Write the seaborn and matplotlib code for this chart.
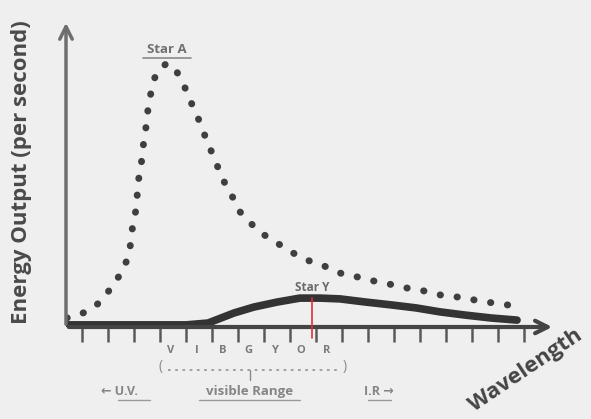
import numpy as np
import pandas as pd
import seaborn as sns
import matplotlib.pyplot as plt

# wavelength in tick units, energy in arbitrary units (Star A peak ~ 100)
star_a_x = [-0.58, -0.15, 0.31, 0.69, 1.0, 1.27, 1.54, 1.73, 1.85, 1.92, 1.96, 2.08,
            2.12, 2.15, 2.23, 2.31, 2.35, 2.42, 2.5, 2.54, 2.62, 2.73, 2.88, 3.27,
            3.65, 3.88, 4.08, 4.27, 4.46, 4.65, 4.81, 5.0, 5.19, 5.38, 5.58, 5.81,
            6.08, 6.38, 6.73, 7.12, 7.5, 7.92, 8.38, 8.85, 9.23, 9.65, 10.12, 10.58,
            11.08, 11.54, 12.04, 12.5, 13.0, 13.46, 13.96, 14.46, 14.92, 15.42,
            15.88, 16.38]
star_a_y = [3.4, 4.5, 6.4, 9.4, 13.2, 17.0, 20.8, 25.3, 30.2, 35.5, 39.6, 44.2,
            49.1, 54.3, 58.5, 63.8, 67.9, 73.2, 77.4, 82.6, 86.8, 92.1, 96.2, 99.6,
            96.2, 92.1, 87.5, 83.0, 78.9, 74.3, 69.8, 65.7, 61.1, 56.6, 52.5, 48.7,
            43.4, 40.4, 36.6, 34.0, 31.7, 29.1, 26.4, 24.5, 23.4, 21.5, 19.6, 18.9,
            17.7, 16.6, 15.8, 14.7, 14.0, 12.8, 11.7, 11.3, 10.6, 9.4, 9.1, 8.3]
star_y_x = [-0.62, 1.0, 3.0, 4.0, 4.85, 5.85, 6.6, 7.5, 8.38, 9.15, 9.92, 10.92,
            11.92, 12.85, 13.77, 14.73, 15.73, 16.73]
star_y_y = [0.8, 0.8, 0.8, 0.8, 1.5, 5.3, 7.5, 9.4, 10.9, 10.9, 10.6, 9.4,
            8.3, 7.2, 5.7, 4.5, 3.4, 2.6]
n_ticks = 18
colour_letters = ["V", "I", "B", "G", "Y", "O", "R"]
peak_y_x = 8.85

BG = "#efefef"
INK = "#3f3f3f"
SOFT = "#858585"

sns.set_style("white")
plt.rcParams["font.family"] = ["Open Sans", "DejaVu Sans"]

fig = plt.figure(figsize=(5.91, 4.19), dpi=100, facecolor=BG)
ax = fig.add_axes([66 / 591, 92 / 419, 489 / 591, 307 / 419])
ax.set_facecolor(BG)
ax.patch.set_alpha(0)

a = pd.DataFrame({"wl": star_a_x, "energy": star_a_y})
y = pd.DataFrame({"wl": star_y_x, "energy": star_y_y})

sns.lineplot(data=a, x="wl", y="energy", ax=ax, color=INK, lw=5,
             sort=False, estimator=None,
             linestyle=(0, (0.05, 2.4)), dash_capstyle="round", solid_capstyle="round")
sns.lineplot(data=y, x="wl", y="energy", ax=ax, color="#333333", lw=5.5,
             sort=False, estimator=None, solid_capstyle="round")

ax.set_xlim(-0.615, 18.19)
ax.set_ylim(0, 115.8)
for s in ax.spines.values():
    s.set_visible(False)
ax.set_xlabel("")
ax.set_ylabel("")
ax.set_yticks([])
ax.set_xticks(range(n_ticks))
ax.set_xticklabels([])
ax.tick_params(axis="x", direction="out", length=11, width=1.8, color="#5a5a5a", bottom=True)

# axis arrows
ax.annotate("", xy=(0, 1), xytext=(0, 0), xycoords="axes fraction",
            arrowprops=dict(arrowstyle="->,head_length=0.9,head_width=0.45", lw=2.5, color="#6e6e6e"))
ax.annotate("", xy=(1, 0), xytext=(0, 0), xycoords="axes fraction",
            arrowprops=dict(arrowstyle="->,head_length=0.9,head_width=0.45", lw=3, color="#444444"))

# red marker at Star Y peak
ax.plot([peak_y_x, peak_y_x], [-4, 10.9], color="#e0303a", lw=1.2, zorder=5, clip_on=False)

ax.text(3.27, 104.5, "Star A", ha="center", va="center", fontsize=9.5, weight="bold",
        color="#707070")
ax.plot([2.35, 4.2], [101.5, 101.5], color="#8a8a8a", lw=1.2)
ax.text(peak_y_x, 14.9, "Star Y", ha="center", va="center", fontsize=8.5, weight="bold",
        color="#6a6a6a")

# colour letters between ticks
for i, letter in enumerate(colour_letters):
    ax.text(3.4 + i * 1.0, -8.7, letter, ha="center", va="center", fontsize=8,
            weight="bold", color="#7a7a7a", clip_on=False)

ax.text(3.0, -15.0, "(", fontsize=10, color="#8a8a8a", va="center", ha="center", clip_on=False)
ax.text(10.1, -15.0, ")", fontsize=10, color="#8a8a8a", va="center", ha="center", clip_on=False)
ax.plot([3.3, 9.8], [-16.4, -16.4], color="#9a9a9a", lw=1.3, linestyle=(0, (1.5, 2.5)), clip_on=False)
ax.plot([6.46, 6.46], [-16.4, -20.0], color="#8a8a8a", lw=1.0, clip_on=False)

ax.text(1.45, -24.5, "← U.V.", ha="center", va="center", fontsize=9, weight="bold",
        color=SOFT, clip_on=False)
ax.text(6.46, -24.5, "visible Range", ha="center", va="center", fontsize=9.5, weight="bold",
        color=SOFT, clip_on=False)
ax.text(11.4, -24.5, "I.R →", ha="center", va="center", fontsize=9, weight="bold",
        color=SOFT, clip_on=False)
for x0, x1 in [(1.4, 2.6), (4.5, 8.4), (11.0, 11.9)]:
    ax.plot([x0, x1], [-27.6, -27.6], color="#9a9a9a", lw=1.0, clip_on=False)

fig.text(22 / 591, 1 - 172 / 419, "Energy Output (per second)", rotation=90,
         ha="center", va="center", fontsize=16, weight="bold", color="#4a4a4a")
fig.text(526 / 591, 1 - 370 / 419, "Wavelength", rotation=34, ha="center", va="center",
         fontsize=16, weight="bold", color="#454545")

fig.savefig("out.png", dpi=100, facecolor=BG)
